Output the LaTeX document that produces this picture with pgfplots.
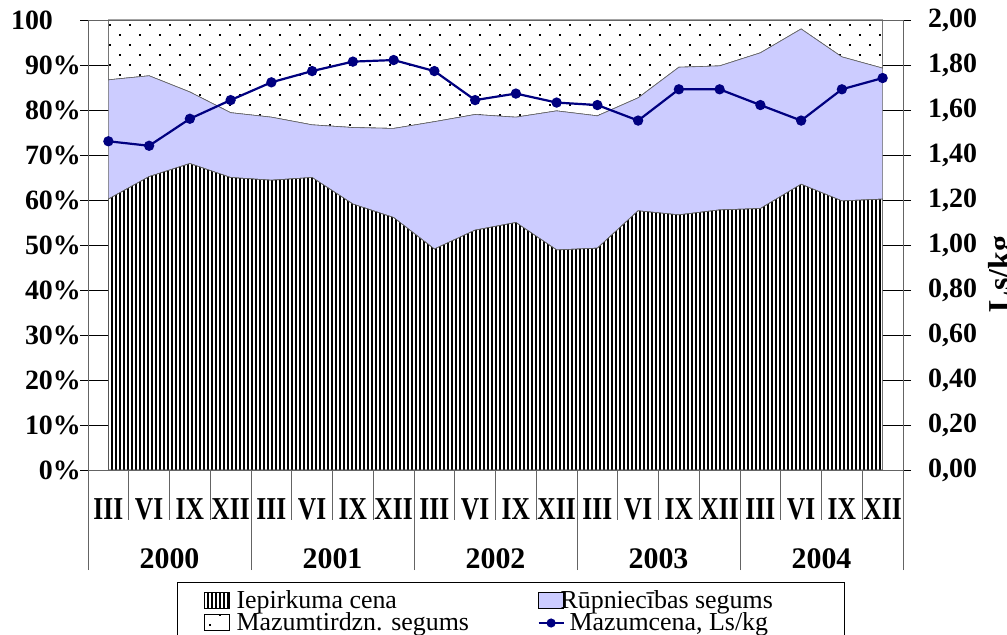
\documentclass[border=0pt]{standalone}
\usepackage{fontspec}
\setmainfont{Liberation Serif}
\usepackage{graphicx}
\usepackage{pgfplots}
\usepackage{pgfplotstable}
\pgfplotsset{compat=1.18}
\usetikzlibrary{patterns.meta}
\definecolor{navy}{RGB}{0,0,128}
\definecolor{lav}{RGB}{204,204,255}
\definecolor{axgray}{RGB}{100,100,100}
\newcommand\mth[1]{\scalebox{0.8}[1]{#1}}
\pgfplotsset{
  legA/.style={legend image code/.code={\path (0bp,0bp); \draw[##1,draw=black] (27bp,0bp) rectangle (52bp,16bp);}},
  legB/.style={legend image code/.code={\draw[##1,draw=black] (0bp,0bp) rectangle (25bp,16bp);}},
  legC/.style={legend image code/.code={\draw[##1, mark repeat=2, mark phase=2] plot coordinates {(0bp,7bp) (12.5bp,7bp) (25bp,7bp)};}},
}

\pgfplotstableread{
x iep rup maz price
0 60.2 26.5 13.3 1.461
1 65.2 22.4 12.4 1.441
2 68.1 15.9 16.0 1.561
3 65.0 14.4 20.6 1.644
4 64.4 14.0 21.6 1.723
5 65.0 11.7 23.3 1.773
6 59.1 17.0 23.9 1.815
7 56.1 19.8 24.1 1.822
8 49.1 28.3 22.6 1.773
9 53.3 25.7 21.0 1.644
10 55.0 23.4 21.6 1.673
11 48.9 30.9 20.2 1.633
12 49.3 29.4 21.3 1.622
13 57.6 25.1 17.3 1.553
14 56.7 32.8 10.5 1.692
15 57.8 32.0 10.2 1.692
16 58.1 34.6 7.3 1.622
17 63.5 34.5 2.0 1.553
18 59.8 32.0 8.2 1.692
19 60.2 29.1 10.7 1.742
}\data

\begin{document}
\begin{tikzpicture}
\path[use as bounding box] (0,0) rectangle (1007bp,635bp);
\begin{axis}[
  at={(88bp,165bp)}, anchor=south west,
  scale only axis, width=815bp, height=450bp,
  xmin=-0.5, xmax=19.5, ymin=0, ymax=100,
  stack plots=y,
  axis line style={axgray, line width=0.8bp},
  xtick={0,...,19},
  xticklabels={\mth{III},\mth{VI},\mth{IX},\mth{XII},\mth{III},\mth{VI},\mth{IX},\mth{XII},\mth{III},\mth{VI},\mth{IX},\mth{XII},\mth{III},\mth{VI},\mth{IX},\mth{XII},\mth{III},\mth{VI},\mth{IX},\mth{XII}},
  xtick pos=left, ytick pos=left,
  tick align=outside,
  major tick length=8bp,
  major x tick style={draw=none},
  minor xtick={0.5,1.5,2.5,4.5,5.5,6.5,8.5,9.5,10.5,12.5,13.5,14.5,16.5,17.5,18.5},
  minor tick length=50bp,
  minor x tick style={draw=axgray, line width=0.8bp},
  ytick={0,10,...,100},
  yticklabels={0\%,10\%,20\%,30\%,40\%,50\%,60\%,70\%,80\%,90\%,100\phantom{\%}},
  ymajorgrids,
  major grid style={black, line width=0.8bp},
  ytick style={black, line width=0.8bp},
  yticklabel style={font=\bfseries\fontsize{28}{28}\selectfont, anchor=east, inner sep=0pt, xshift=1bp},
  xticklabel style={font=\bfseries\fontsize{32}{32}\selectfont, anchor=base, inner sep=0pt, yshift=-42bp},
  legend columns=2,
  legend cell align=left,
  legend style={at={(0.1092,-0.2489)}, anchor=north west, draw=black, line width=0.8bp,
    inner xsep=0pt, inner ysep=9bp, outer sep=0pt,
    font=\fontsize{26}{26}\selectfont,
    nodes={text height=17bp, text depth=5bp, inner sep=0pt, anchor=base west},
    row sep=0pt,
    /tikz/column 1/.style={column sep=7bp},
    /tikz/column 2/.style={column sep=5bp},
    /tikz/column 3/.style={column sep=-4bp}},
]
\addplot[draw=axgray, line width=0.6bp, fill=white,
  postaction={pattern={Lines[angle=90,distance=4bp,line width=2bp]}, pattern color=black}, legA]
  table[x=x,y=iep]{\data} \closedcycle;
\addlegendentry{\makebox[296bp][l]{Iepirkuma cena}}
\addplot[draw=axgray, line width=0.6bp, fill=lav, legB]
  table[x=x,y=rup]{\data} \closedcycle;
\addlegendentry{\makebox[284bp][l]{Rūpniecības segums}}
\addplot[draw=axgray, line width=0.6bp, fill=white,
  postaction={pattern={Dots[distance=14.142bp,angle=45,radius=1.1bp]}, pattern color=black}, legA]
  table[x=x,y=maz]{\data} \closedcycle;
\addlegendentry{\makebox[296bp][l]{Mazumtirdzn. segums}}
\addlegendimage{navy, line width=2bp, mark=*, mark size=3.5bp, legC}
\addlegendentry{\makebox[284bp][l]{\hspace{9bp}Mazumcena, Ls/kg}}
\end{axis}
\begin{axis}[
  at={(88bp,165bp)}, anchor=south west,
  scale only axis, width=815bp, height=450bp,
  xmin=-0.5, xmax=19.5, ymin=0, ymax=2,
  axis line style={axgray, line width=0.8bp},
  xtick={1.5,5.5,9.5,13.5,17.5},
  xticklabels={2000,2001,2002,2003,2004},
  xtick pos=left, ytick pos=right, yticklabel pos=right,
  tick align=outside, major tick length=8bp,
  major x tick style={draw=none},
  minor xtick={-0.5,3.5,7.5,11.5,15.5,19.5},
  minor tick length=100bp,
  minor x tick style={draw=axgray, line width=0.8bp},
  ytick={0,0.2,0.4,0.6,0.8,1,1.2,1.4,1.6,1.8,2},
  ytick style={black, line width=0.8bp},
  yticklabel style={font=\bfseries\fontsize{28}{28}\selectfont, anchor=west, inner sep=0pt, xshift=17bp,
    /pgf/number format/.cd, fixed, fixed zerofill, precision=2, use comma, assume math mode=true},
  xticklabel style={font=\bfseries\fontsize{30}{30}\selectfont, anchor=base, inner sep=0pt, yshift=-90bp},
  ylabel={Ls/kg},
  ylabel style={at={(axis description cs:1.1043,0.4356)}, anchor=north, inner sep=0pt, font=\bfseries\fontsize{32}{32}\selectfont},
]
\addplot[navy, line width=2.2bp, mark=*, mark size=4bp] table[x=x,y=price]{\data};
\end{axis}
\end{tikzpicture}
\end{document}
